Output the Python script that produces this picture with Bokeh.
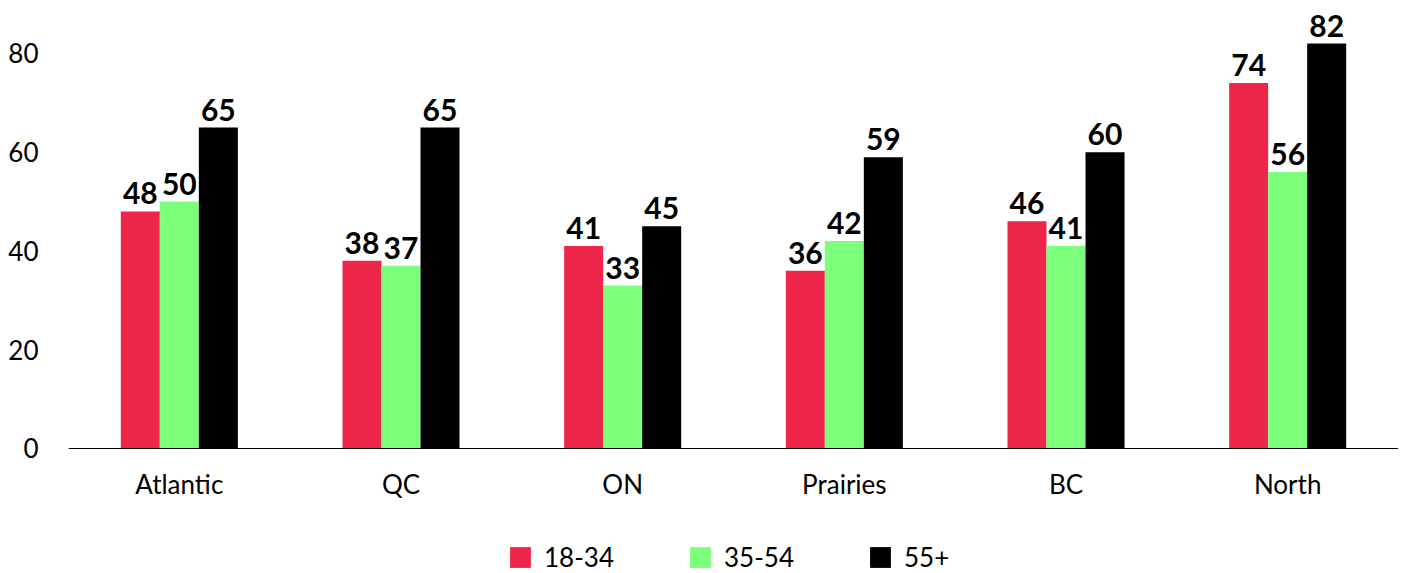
from bokeh.plotting import figure
from bokeh.models import ColumnDataSource, FactorRange, Range1d, FixedTicker, Legend, LegendItem
from bokeh.transform import dodge
from bokeh.core.properties import value
from bokeh.embed import file_html
from bokeh.resources import INLINE

regions = ["Atlantic", "QC", "ON", "Prairies", "BC", "North"]
age_groups = ["18-34", "35-54", "55+"]
v_18_34 = [48, 38, 41, 36, 46, 74]
v_35_54 = [50, 37, 33, 42, 41, 56]
v_55p = [65, 65, 45, 59, 60, 82]
colors = ["#EE2649", "#7CFF7A", "#000000"]
y_ticks = [0, 20, 40, 60, 80]

src = ColumnDataSource(dict(region=regions, a=v_18_34, b=v_35_54, c=v_55p,
                            la=[str(v) for v in v_18_34],
                            lb=[str(v) for v in v_35_54],
                            lc=[str(v) for v in v_55p]))

FONT = "Lato"

p = figure(x_range=FactorRange(factors=regions, range_padding=0),
           y_range=Range1d(-25.32, 90.73),
           frame_width=1330, frame_height=573,
           output_backend="svg", toolbar_location=None,
           min_border_left=68, min_border_right=0, min_border_top=0,
           min_border_bottom=0)
p.outline_line_color = None
p.xgrid.grid_line_color = None
p.ygrid.grid_line_color = None

w = 0.176
offs = [-w, 0, w]
cols = ["a", "b", "c"]
labs = ["la", "lb", "lc"]
items = []
for col, lab, off, color, name in zip(cols, labs, offs, colors, age_groups):
    r = p.vbar(x=dodge("region", off, range=p.x_range), top=col, width=w,
               source=src, fill_color=color, line_color=None)
    p.text(x=dodge("region", off, range=p.x_range), y=col, text=lab, source=src,
           text_align="center", text_baseline="bottom", y_offset=-7,
           text_font=value(FONT), text_font_style="bold", text_font_size="30px",
           text_color="#000000")
    items.append(LegendItem(label=name, renderers=[r]))

p.xaxis.fixed_location = 0
p.xaxis.axis_line_color = "#000000"
p.xaxis.axis_line_width = 1
p.xaxis.major_tick_line_color = None
p.xaxis.minor_tick_line_color = None
p.xaxis.major_label_text_font = FONT
p.xaxis.major_label_text_font_size = "26px"
p.xaxis.major_label_text_color = "#000000"
p.xaxis.major_label_standoff = 14

p.yaxis.ticker = FixedTicker(ticks=y_ticks)
p.yaxis.axis_line_color = None
p.yaxis.major_tick_line_color = None
p.yaxis.minor_tick_line_color = None
p.yaxis.major_label_text_font = FONT
p.yaxis.major_label_text_font_size = "26px"
p.yaxis.major_label_text_color = "#000000"
p.yaxis.major_label_standoff = 24

legend = Legend(items=items, orientation="horizontal", location=(439, 0),
                glyph_width=26, glyph_height=26, label_standoff=11,
                label_text_font=FONT, label_text_font_size="26px",
                label_text_color="#000000", label_width=120, spacing=23,
                label_height=26,
                padding=0, margin=0, border_line_color=None,
                background_fill_alpha=0)
p.add_layout(legend, "center")

open("out.html", "w").write(file_html(p, INLINE))
